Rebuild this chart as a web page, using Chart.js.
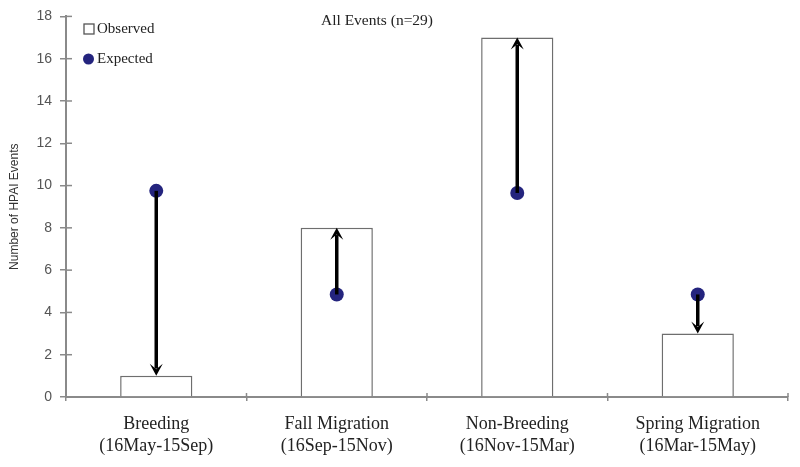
<!DOCTYPE html>
<html><head><meta charset="utf-8">
<script src="https://cdn.jsdelivr.net/npm/chart.js@4/dist/chart.umd.min.js"></script>
<style>html,body{margin:0;padding:0;background:#fff}#wrap{width:800px;height:467px;position:relative}</style>
</head><body><div id="wrap"><canvas id="c" width="800" height="467"></canvas></div>
<script>
const categories = [["Breeding","(16May-15Sep)"],["Fall Migration","(16Sep-15Nov)"],["Non-Breeding","(16Nov-15Mar)"],["Spring Migration","(16Mar-15May)"]];
const observed = [1, 8, 17, 3];
const expected = [9.75, 4.85, 9.65, 4.85];
const yTicks = [0,2,4,6,8,10,12,14,16,18];
const titleText = "All Events (n=29)";
const yTitle = "Number of HPAI Events";

const SERIF = '"Liberation Serif", "DejaVu Serif", serif';
const SANS = '"Liberation Sans", Arial, sans-serif';
const AXIS = '#8a8a8a';

const deco = {
  id: 'deco',
  afterDatasetsDraw(chart) {
    const ctx = chart.ctx, xs = chart.scales.x, ys = chart.scales.y;
    ctx.save();
    ctx.strokeStyle = '#000'; ctx.fillStyle = '#000'; ctx.lineWidth = 3.5;
    for (let i = 0; i < observed.length; i++) {
      const x = xs.getPixelForValue(i);
      const y0 = ys.getPixelForValue(expected[i]);
      const y1 = ys.getPixelForValue(observed[i]);
      const dir = y1 > y0 ? 1 : -1;
      const hl = 12, hw = 6.5;
      ctx.beginPath(); ctx.moveTo(x, y0); ctx.lineTo(x, y1 - dir * hl * 0.6); ctx.stroke();
      ctx.beginPath();
      ctx.moveTo(x, y1);
      ctx.lineTo(x - hw, y1 - dir * hl);
      ctx.lineTo(x, y1 - dir * hl * 0.55);
      ctx.lineTo(x + hw, y1 - dir * hl);
      ctx.closePath(); ctx.fill();
    }
    ctx.strokeStyle = AXIS; ctx.lineWidth = 1.5;
    const a = chart.chartArea;
    ys.ticks.forEach((t, i) => {
      const y = ys.getPixelForTick(i);
      ctx.beginPath(); ctx.moveTo(a.left, y); ctx.lineTo(a.left + 6, y); ctx.stroke();
    });
    for (let i = 0; i <= categories.length; i++) {
      const x = xs.left + (xs.right - xs.left) * i / categories.length;
      ctx.beginPath(); ctx.moveTo(x, a.bottom); ctx.lineTo(x, a.bottom - 4); ctx.stroke();
    }
    ctx.fillStyle = '#222'; ctx.font = '15.5px ' + SERIF; ctx.textAlign = 'center'; ctx.textBaseline = 'middle';
    ctx.fillText(titleText, 377, 21);
    ctx.textAlign = 'left';
    ctx.font = '15px ' + SERIF;
    ctx.strokeStyle = '#555'; ctx.lineWidth = 1.3; ctx.fillStyle = '#fff';
    ctx.fillRect(84, 24, 10, 10); ctx.strokeRect(84, 24, 10, 10);
    ctx.fillStyle = '#222'; ctx.fillText(chart.data.datasets[0].label, 97, 29);
    ctx.beginPath(); ctx.arc(88.5, 59, 5.5, 0, Math.PI * 2); ctx.fillStyle = '#24247e'; ctx.fill();
    ctx.fillStyle = '#222'; ctx.fillText(chart.data.datasets[1].label, 97, 59);
    ctx.restore();
  }
};

new Chart(document.getElementById('c'), {
  data: {
    labels: categories,
    datasets: [
      { type: 'bar', label: 'Observed', data: observed, backgroundColor: '#fff', borderColor: '#6e6e6e', borderWidth: 1.5,
        categoryPercentage: 0.8, barPercentage: 0.5, order: 2 },
      { type: 'line', label: 'Expected', data: expected, showLine: false, pointRadius: 7, pointHoverRadius: 7,
        pointBackgroundColor: '#24247e', pointBorderColor: '#24247e', pointBorderWidth: 0, order: 1 }
    ]
  },
  options: {
    responsive: false, animation: false,
    layout: { padding: { left: 0, right: 12, top: 14, bottom: 0 } },
    plugins: { legend: { display: false }, tooltip: { enabled: false } },
    scales: {
      x: {
        grid: { display: true, offset: true, drawOnChartArea: false, drawTicks: true, tickLength: 4, color: AXIS, lineWidth: 1.5 },
        border: { color: AXIS, width: 2 },
        ticks: { color: '#222', font: { family: SERIF, size: 18, lineHeight: 1.25 }, padding: 12 },
        afterFit(s) { s.height = 70; }
      },
      y: {
        min: 0, max: 18,
        afterBuildTicks(s) { s.ticks = yTicks.map(v => ({ value: v })); },
        grid: { display: true, drawOnChartArea: false, drawTicks: true, tickLength: 6, color: AXIS, lineWidth: 1.5 },
        border: { color: AXIS, width: 2 },
        ticks: { color: '#555', font: { family: SANS, size: 14 }, padding: 8 },
        title: { display: true, text: yTitle, color: '#333', font: { family: SANS, size: 12 }, padding: { top: 7, bottom: 4 } },
        afterFit(s) { s.width = 66; }
      }
    }
  },
  plugins: [deco]
});
</script></body></html>
